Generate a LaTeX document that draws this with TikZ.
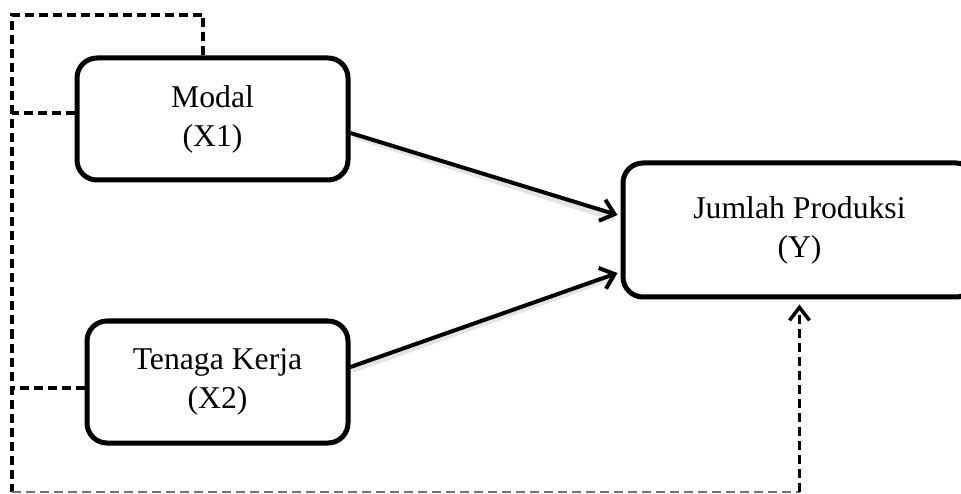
\documentclass[tikz,border=0pt]{standalone}
\usepackage{fontspec}
\setmainfont{Liberation Serif}
\usetikzlibrary{arrows.meta,calc}
\begin{document}
\begin{tikzpicture}[x=1pt,y=-1pt,
  varbox/.style={draw,line width=5pt,rounded corners=20pt,inner sep=0pt,align=center,
    font=\fontsize{31.7}{39}\selectfont},
  dline/.style={line width=3.5pt,dash pattern=on 9pt off 5pt},
  arr/.style={line width=4pt,-{Straight Barb[length=13pt,width=22pt]}},
  shad/.style={line width=5pt,black!15,opacity=.7}]
\useasboundingbox (0,0) rectangle (961,494);
\node[varbox,minimum width=271pt,minimum height=122pt] (M) at (212.5,119) {Modal\\(X1)};
\node[varbox,minimum width=261pt,minimum height=122pt] (T) at (217.5,382) {Tenaga Kerja\\(X2)};
\node[varbox,minimum width=353pt,minimum height=134pt] (J) at (799.5,230) {Jumlah Produksi\\(Y)};
\coordinate (tl) at (12,15);
\coordinate (bl) at (12,492);
\coordinate (br) at (799.5,492);
% shadows
\draw[shad] ([xshift=3pt,yshift=-17pt]M.east) -- ([xshift=-6pt,yshift=11pt]J.west);
\draw[shad] ([xshift=3pt,yshift=12pt]T.east) -- ([xshift=-6pt,yshift=-47pt]J.west);
% arrows
\draw[arr] ([yshift=-14pt]M.east) -- ([xshift=-3pt,yshift=15pt]J.west);
\draw[arr] ([yshift=15pt]T.east) -- ([xshift=-3pt,yshift=-43pt]J.west);
% dashed feedback
\draw[dline] ([xshift=-9.5pt]M.north) |- (tl) -- (bl);
\draw[dline] ([yshift=6pt]M.west) -- ([yshift=6pt]M.west -| tl);
\draw[dline] ([yshift=-6pt]T.west) -- ([yshift=-6pt]T.west -| tl);
\draw[dline,black!55,line width=2pt] (bl) -- (br);
\draw[dline,-{Straight Barb[length=13pt,width=20pt]},shorten >=5pt] (br) -- (J.south);
\end{tikzpicture}
\end{document}
